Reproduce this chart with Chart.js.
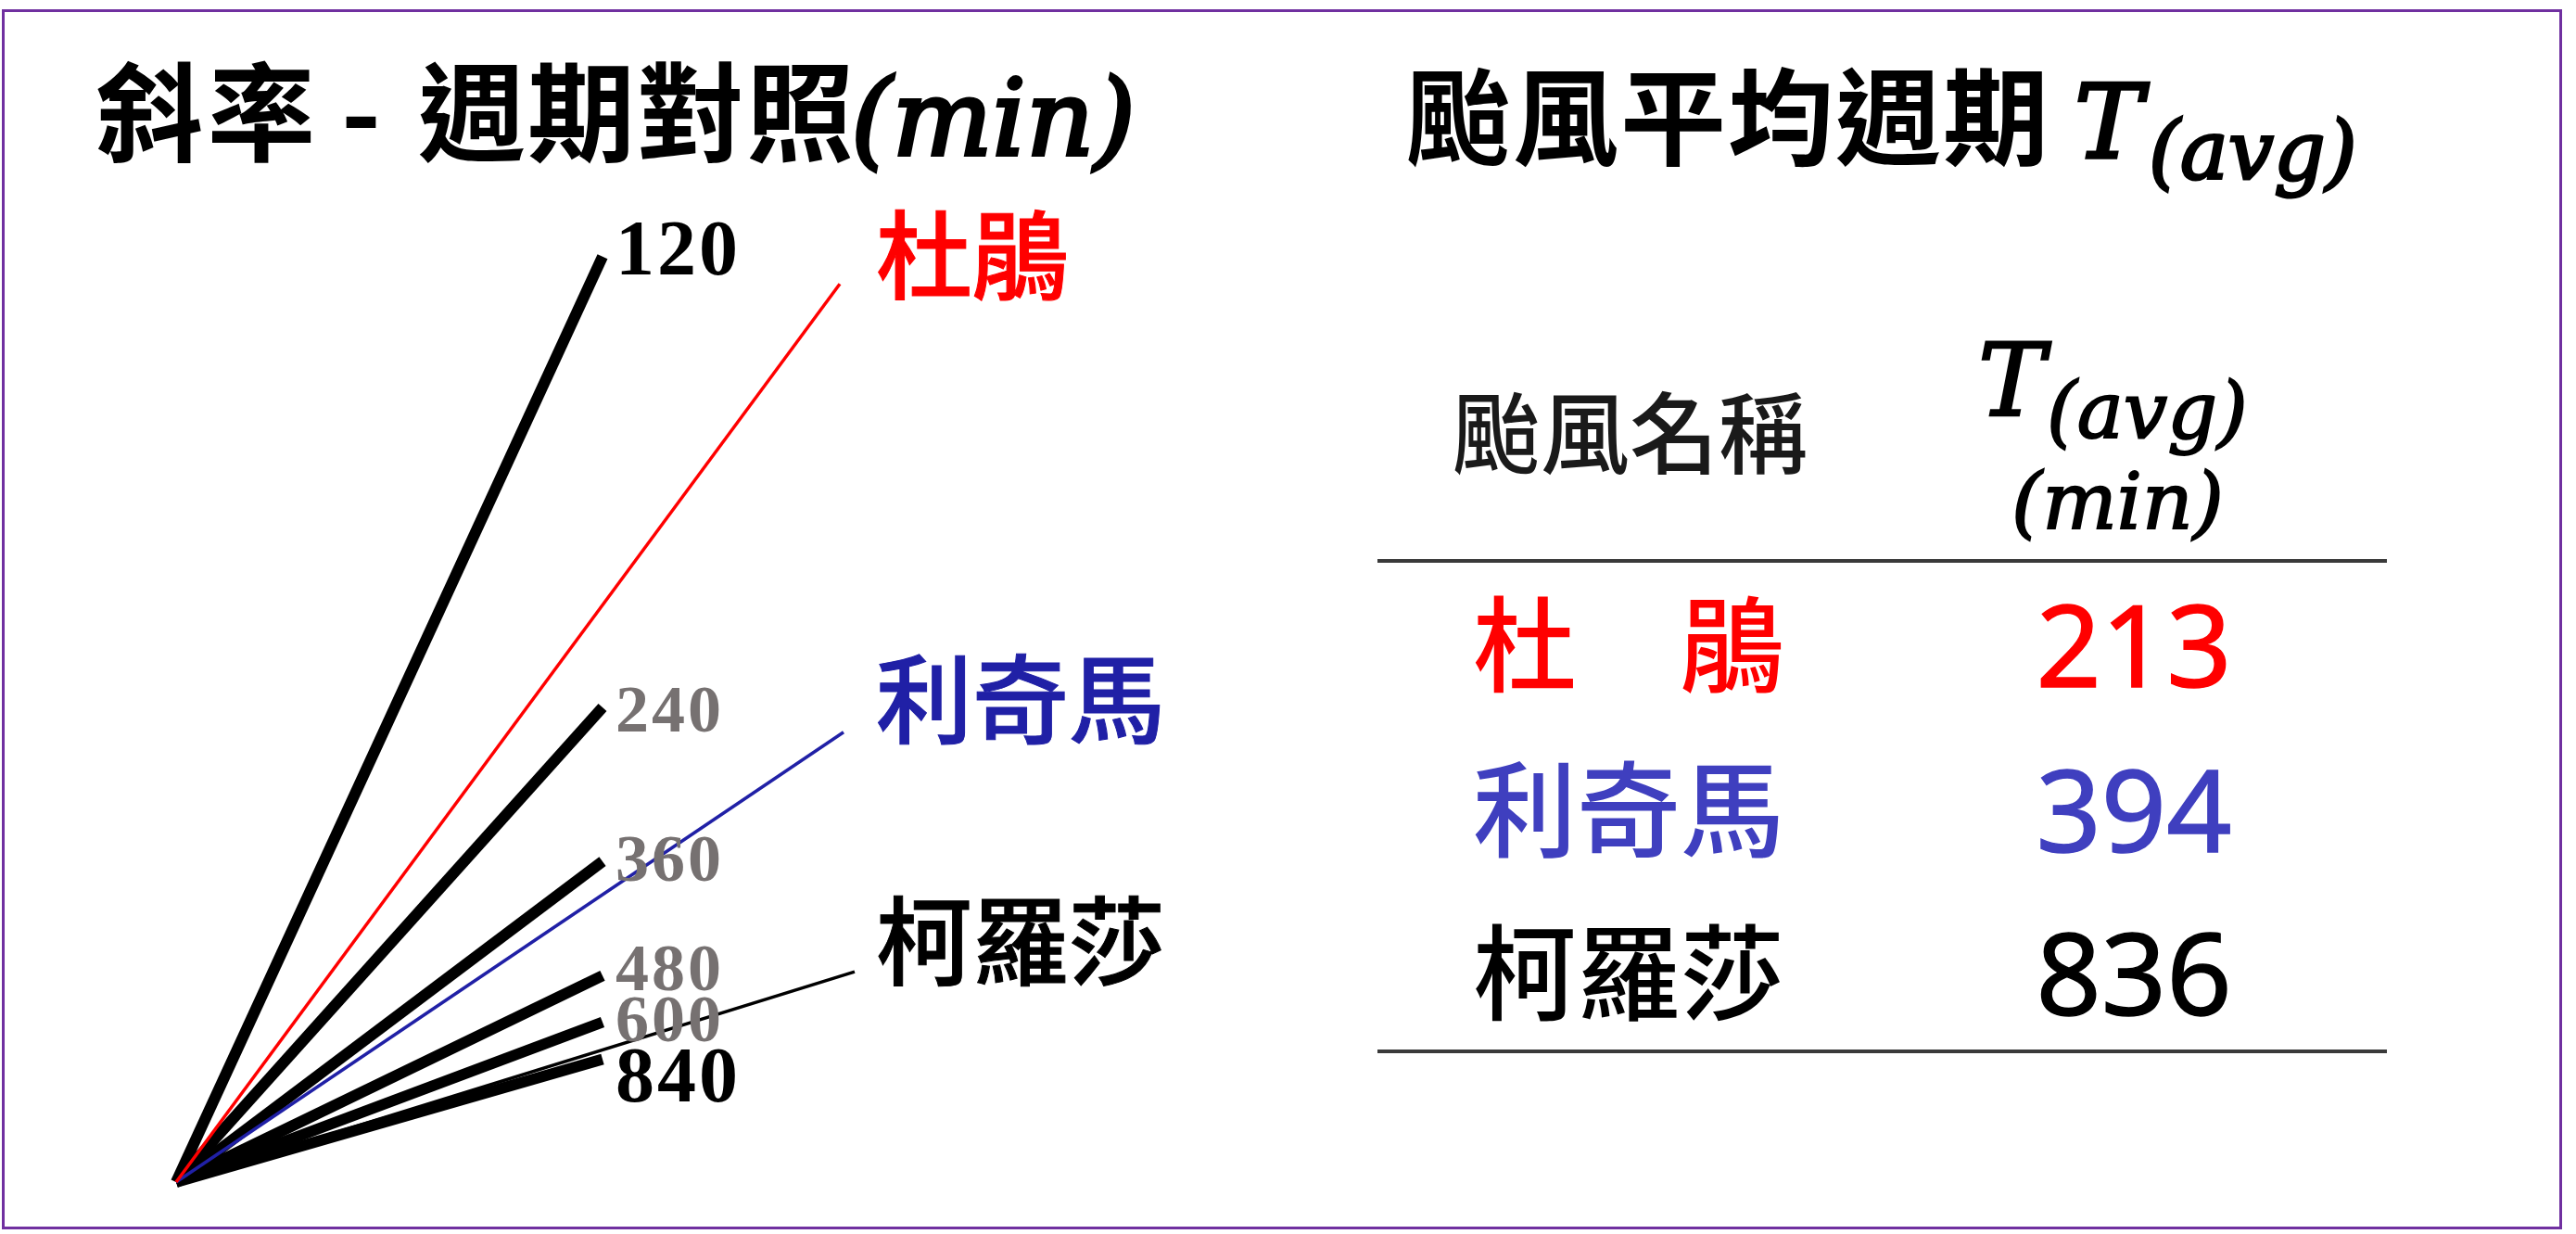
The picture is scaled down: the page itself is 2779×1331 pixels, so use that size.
<!DOCTYPE html>
<html><head><meta charset="utf-8">
<script src="https://cdn.jsdelivr.net/npm/chart.js@4.4.1/dist/chart.umd.min.js"></script>
<style>
html,body{margin:0;padding:0;background:#fff;}
#stage{position:relative;width:2779px;height:1331px;overflow:hidden;background:#fff;}
#frame{position:absolute;left:2px;top:10px;width:2762px;height:1316px;box-sizing:border-box;border:3px solid #7030A0;}
#chartBox{position:absolute;left:180px;top:255px;width:770px;height:1030px;}
#overlay{position:absolute;left:0;top:0;}
.cjk{font-family:"Noto Sans CJK TC","Noto Sans CJK SC",sans-serif;}
.math{font-family:"DejaVu Serif",serif;font-style:italic;}
.num{font-family:"Noto Sans","Open Sans",sans-serif;}
.ser{font-family:"Liberation Serif","DejaVu Serif",serif;font-weight:700;}
</style></head>
<body><div id="stage">
<div id="frame"></div>
<div id="chartBox"><canvas id="c"></canvas></div>
<svg id="overlay" width="2779" height="1331" xmlns="http://www.w3.org/2000/svg">
  <g class="cjk" font-weight="700" font-size="116" fill="#000">
    <text x="103" y="165" letter-spacing="5">斜率</text>
    <text x="368" y="165">-</text>
    <text x="451" y="165" letter-spacing="2">週期對照</text>
    <text x="1516" y="169" font-size="114" letter-spacing="2">颱風平均週期</text>
  </g>
  <text class="math" x="918" y="167" font-size="114" fill="#000" stroke="#000" stroke-width="4">(min)</text>
  <text class="math" x="2238" y="170" font-size="110" fill="#000" stroke="#000" stroke-width="3.5">T</text>
  <text class="math" x="2318" y="193" font-size="87" fill="#000" stroke="#000" stroke-width="3">(avg)</text>

  <text class="cjk" x="1566" y="503" font-size="96" font-weight="500" fill="#1a1a1a">颱風名稱</text>
  <text class="math" x="2134" y="448" font-size="108" fill="#000" stroke="#000" stroke-width="2.5">T</text>
  <text class="math" x="2208" y="472" font-size="84" fill="#000" stroke="#000" stroke-width="2">(avg)</text>
  <text class="math" x="2170" y="570" font-size="85" fill="#000" stroke="#000" stroke-width="2">(min)</text>
  <rect x="1486" y="603" width="1089" height="4" fill="#3a3a3a"/>
  <rect x="1486" y="1132" width="1089" height="4" fill="#3a3a3a"/>
  <g id="tableRows"></g>
  <g id="lineLabels"></g>
</svg>
</div>
<script>
// ---- data ----
const refPeriods = [120, 240, 360, 480, 600, 840];           // reference-period rays (min)
const refSlopes = [2.17, 1.113, 0.752, 0.484, 0.375, 0.288]; // slope of each reference ray
const refLength = 460;                                         // horizontal extent of reference rays
const typhoonNames = ['杜鵑', '利奇馬', '柯羅莎'];
const typhoonPeriods = [213, 394, 836];                        // T(avg) in minutes
const typhoonSlopes = [1.353, 0.674, 0.310];                   // slope of each typhoon ray
const typhoonLengths = [716, 720, 732];                        // horizontal extent of typhoon rays

// ---- styles ----
const refLabelColors = ['#000000', '#767171', '#767171', '#767171', '#767171', '#000000'];
const refLabelSizes = [84, 72, 72, 72, 72, 84];
const refLabelDy = [19, 26, 21, 16, 20, 45];
const typhoonLineColors = ['#FF0000', '#2020A6', '#000000'];
const typhoonTableColors = ['#FF0000', '#3F3FBF', '#000000'];
const typhoonLabelDy = [9, 4, 7];
const SVGNS = 'http://www.w3.org/2000/svg';

function svgText(parent, x, y, str, attrs) {
  const t = document.createElementNS(SVGNS, 'text');
  t.setAttribute('x', x); t.setAttribute('y', y);
  for (const k in attrs) t.setAttribute(k, attrs[k]);
  t.textContent = str;
  parent.appendChild(t);
  return t;
}

// table rows
const rows = document.getElementById('tableRows');
const rowBase = [738, 916, 1092];
typhoonNames.forEach((n, i) => {
  const disp = n.length === 2 ? n[0] + '\u3000' + n[1] : n;
  svgText(rows, 1589, rowBase[i], disp, {'class': 'cjk', 'font-size': 112, 'font-weight': 500, 'fill': typhoonTableColors[i]});
  svgText(rows, 2302, rowBase[i] + 3, String(typhoonPeriods[i]), {'class': 'num', 'font-size': 123, 'text-anchor': 'middle', 'fill': typhoonTableColors[i], 'stroke': typhoonTableColors[i], 'stroke-width': 1.5});
});

const datasets = [];
typhoonNames.forEach((n, i) => {
  datasets.push({
    label: n,
    data: [{x: 0, y: 0}, {x: typhoonLengths[i], y: typhoonLengths[i] * typhoonSlopes[i]}],
    borderColor: typhoonLineColors[i], borderWidth: 3.5, order: 0
  });
});
refPeriods.forEach((p, i) => {
  datasets.push({
    label: String(p),
    data: [{x: 0, y: 0}, {x: refLength, y: refLength * refSlopes[i]}],
    borderColor: '#000000', borderWidth: 12, order: 1
  });
});

const labelPlugin = {
  id: 'rayLabels',
  afterRender(chart) {
    const g = document.getElementById('lineLabels');
    while (g.firstChild) g.removeChild(g.firstChild);
    const xs = chart.scales.x, ys = chart.scales.y;
    const r = chart.canvas.getBoundingClientRect();
    const s = document.getElementById('stage').getBoundingClientRect();
    const ox = r.left - s.left, oy = r.top - s.top;
    refPeriods.forEach((p, i) => {
      const px = ox + xs.getPixelForValue(refLength);
      const py = oy + ys.getPixelForValue(refLength * refSlopes[i]);
      svgText(g, px + 14, py + refLabelDy[i], String(p), {'class': 'ser', 'font-size': refLabelSizes[i], 'letter-spacing': 3, 'fill': refLabelColors[i]});
    });
    const colX = ox + xs.getPixelForValue(Math.max(...typhoonLengths)) + 23;
    typhoonNames.forEach((n, i) => {
      const py = oy + ys.getPixelForValue(typhoonLengths[i] * typhoonSlopes[i]);
      svgText(g, colX, py + typhoonLabelDy[i], n, {'class': 'cjk', 'font-size': 104, 'font-weight': 500, 'fill': typhoonLineColors[i], 'stroke': typhoonLineColors[i], 'stroke-width': 1});
    });
  }
};

new Chart(document.getElementById('c'), {
  type: 'scatter',
  data: {datasets: datasets.map(d => Object.assign(d, {showLine: true, pointRadius: 0, pointHoverRadius: 0, clip: false, borderCapStyle: 'butt', fill: false}))},
  options: {
    responsive: true, maintainAspectRatio: false, animation: false,
    layout: {padding: 10},
    plugins: {legend: {display: false}, tooltip: {enabled: false}},
    events: [],
    scales: {
      x: {type: 'linear', min: 0, max: 750, display: false},
      y: {type: 'linear', min: 0, max: 1010, display: false}
    }
  },
  plugins: [labelPlugin]
});
</script>
</body></html>
